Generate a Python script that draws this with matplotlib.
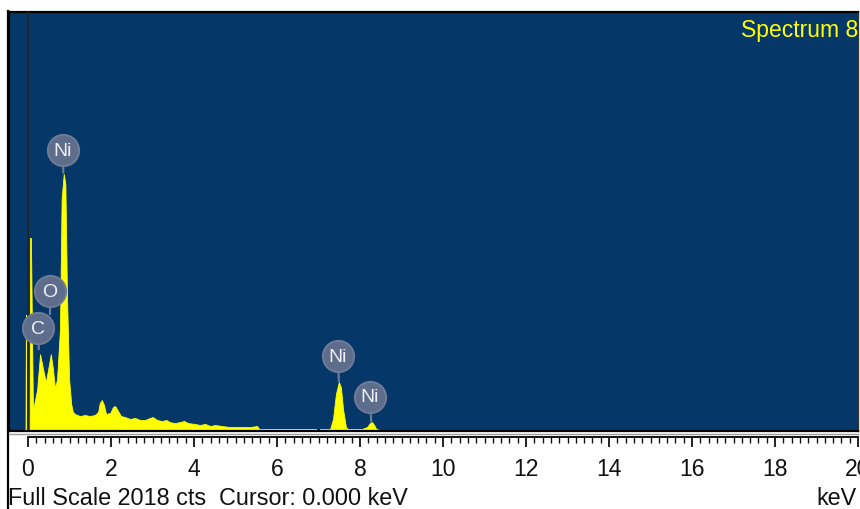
import matplotlib
matplotlib.use("Agg")
import matplotlib.pyplot as plt
from matplotlib.lines import Line2D
from matplotlib.ticker import MultipleLocator

plt.rcParams['font.family'] = ['Liberation Sans', 'DejaVu Sans']

# EDS spectrum: energy (keV) and counts
energy_kev = [-0.06, -0.05, -0.04, 0.04, 0.05, 0.07, 0.10, 0.12, 0.22, 0.29,
              0.36, 0.43, 0.48, 0.55, 0.60, 0.65, 0.70, 0.77, 0.81, 0.86,
              0.90, 0.94, 0.99, 1.04, 1.08, 1.13, 1.25, 1.37, 1.49, 1.61,
              1.69, 1.73, 1.78, 1.83, 1.88, 1.98, 2.05, 2.10, 2.17, 2.24,
              2.34, 2.46, 2.58, 2.70, 2.82, 2.94, 3.01, 3.11, 3.23, 3.33,
              3.42, 3.54, 3.66, 3.76, 3.86, 4.02, 4.14, 4.27, 4.39, 4.51,
              4.67, 4.87, 5.11, 5.35, 5.52, 5.57, 5.83, 6.31, 6.94, 6.96,
              7.01, 7.04, 7.28, 7.35, 7.42, 7.49, 7.54, 7.59, 7.66, 7.71,
              7.88, 8.05, 8.17, 8.24, 8.29, 8.34, 8.39, 8.48, 8.55]
counts = [0, 560, 0, 0, 930, 930, 400, 100, 200, 370,
          300, 236, 290, 370, 300, 205, 250, 490, 1115, 1238,
          1190, 640, 250, 130, 92, 82, 72, 77, 72, 77,
          92, 135, 149, 125, 82, 87, 116, 120, 96, 72,
          67, 58, 63, 53, 53, 63, 67, 53, 48, 53,
          43, 38, 43, 48, 38, 34, 29, 34, 24, 29,
          24, 19, 19, 19, 24, 10, 10, 10, 10, 0,
          0, 10, 10, 58, 178, 236, 210, 106, 19, 10,
          10, 10, 19, 38, 43, 29, 10, 5, 0]

# Element markers: label, badge position (keV, counts), peak tip (keV, counts)
marker_labels = ['Ni', 'O', 'C', 'Ni', 'Ni']
marker_pos_kev = [0.84, 0.53, 0.24, 7.47, 8.24]
marker_pos_cts = [1353, 674, 496, 361, 164]
peak_tip_kev = [0.85, 0.53, 0.26, 7.49, 8.27]
peak_tip_cts = [1240, 560, 390, 236, 43]

full_scale = 2018
x_ticks = [0, 2, 4, 6, 8, 10, 12, 14, 16, 18, 20]

W, H = 860, 510
fig = plt.figure(figsize=(W / 100, H / 100), dpi=100)
fig.patch.set_facecolor('white')


def fx(px):
    return px / W


def fy(py):
    return 1 - py / H


bg = '#053768'
ax = fig.add_axes([fx(9), fy(432), fx(858) - fx(9), fy(13) - fy(432)])
ax.set_facecolor(bg)
ax.set_xlim(-0.458, 20.0)
ax.set_ylim(0, full_scale)
ax.set_xticks([])
ax.set_yticks([])
for side, sp in ax.spines.items():
    sp.set_color('black')
    sp.set_linewidth(1.6)
ax.spines['right'].set_linewidth(1.0)
ax.spines['right'].set_color('#333333')

ax.fill_between(energy_kev, counts, 0, color='#ffff00', linewidth=0.6,
                edgecolor='#ffff00', zorder=2)

# cursor line at 0 keV
ax.axvline(0, color='#262626', linewidth=1.3, zorder=3)

# element badges with stems
for lab, bx, by, tx, ty in zip(marker_labels, marker_pos_kev, marker_pos_cts,
                               peak_tip_kev, peak_tip_cts):
    ax.plot([bx, tx], [by, ty], color='#6d7a93', linewidth=1.6, zorder=4,
            solid_capstyle='butt')
for lab, bx, by in zip(marker_labels, marker_pos_kev, marker_pos_cts):
    ax.plot([bx], [by], marker='o', markersize=22.5, markerfacecolor='#5e6d8b',
            markeredgecolor='#6f7c96', markeredgewidth=1.4, zorder=5)
    ax.text(bx, by, lab, color='#eef0f5', fontsize=14, ha='center',
            va='center', zorder=6)

# keV ruler below the spectrum
rax = fig.add_axes([fx(28), fy(438), fx(858) - fx(28), 0.0005])
rax.set_xlim(0, 20)
rax.set_yticks([])
rax.patch.set_alpha(0)
for side in ['top', 'left', 'right']:
    rax.spines[side].set_visible(False)
rax.spines['bottom'].set_linewidth(1.4)
rax.spines['bottom'].set_color('#111111')
rax.set_xticks(x_ticks)
rax.set_xticklabels([str(t) for t in x_ticks])
rax.xaxis.set_minor_locator(MultipleLocator(0.2))
rax.tick_params(axis='x', which='major', direction='out', length=7.5,
                width=1.3, color='#111111', labelsize=16.5, pad=7,
                labelcolor='#111111')
rax.tick_params(axis='x', which='minor', direction='out', length=4.5,
                width=1.0, color='#111111')

# frame lines outside the axes
fig.add_artist(Line2D([fx(8), fx(8)], [fy(12), 0], color='black',
                      linewidth=1.6, transform=fig.transFigure))
fig.add_artist(Line2D([fx(9), fx(858)], [fy(435), fy(435)], color='#9a9a9a',
                      linewidth=1.0, transform=fig.transFigure))

fig.text(fx(858), fy(31), 'Spectrum 8', color='#ffff00', fontsize=16.5,
         ha='right', va='center')
fig.text(fx(8), fy(505), 'Full Scale 2018 cts  Cursor: 0.000 keV',
         color='#111111', fontsize=16.8, ha='left', va='baseline')
fig.text(fx(857), fy(505), 'keV', color='#111111', fontsize=16.8,
         ha='right', va='baseline')

fig.savefig('out.png', dpi=100, facecolor='white')
